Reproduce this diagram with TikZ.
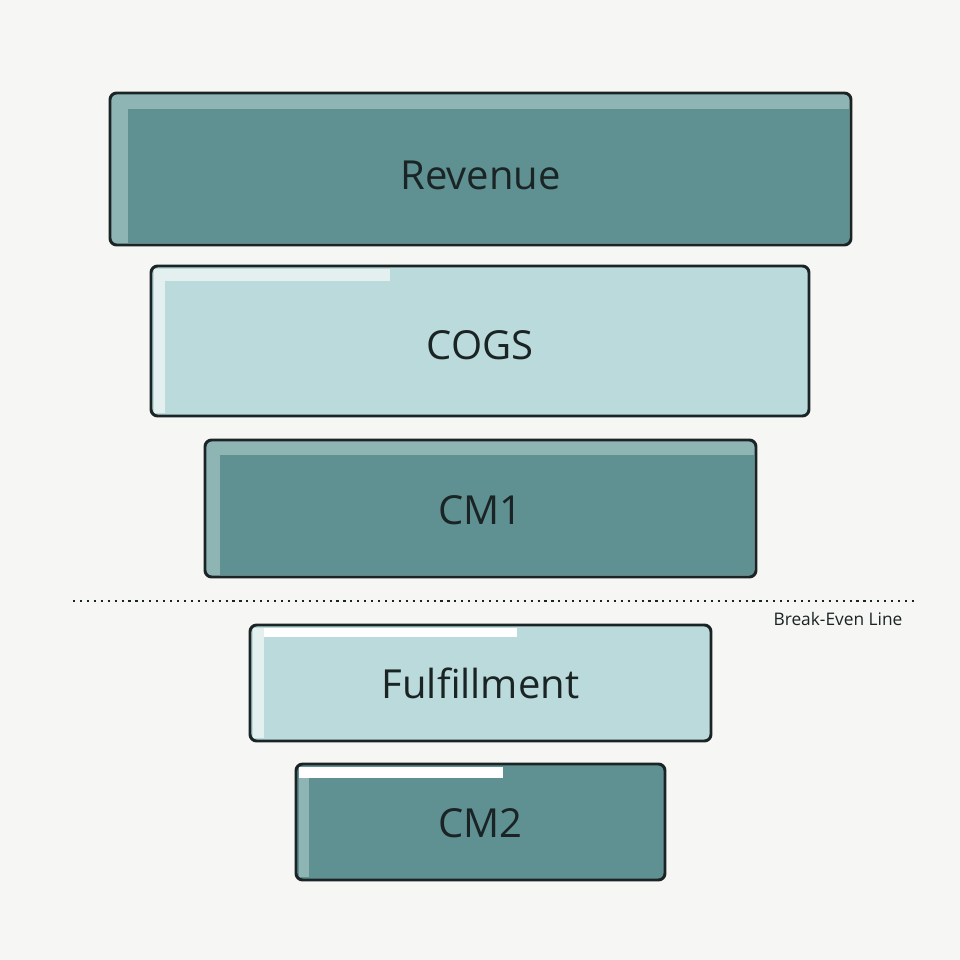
\documentclass[tikz,border=0pt]{standalone}
\usepackage{fontspec}
\setmainfont{Open Sans}
\definecolor{bg}{HTML}{F6F6F4}
\definecolor{dark}{HTML}{5F9193}
\definecolor{darkhi}{HTML}{8FB4B4}
\definecolor{light}{HTML}{BBDADB}
\definecolor{lighthi}{HTML}{E4F0F0}
\definecolor{ink}{HTML}{1B2424}
\begin{document}
\begin{tikzpicture}[x=0.75pt,y=-0.75pt,
  bar/.style={draw=ink,line width=2.2pt,rounded corners=5pt},
  lbl/.style={font=\fontsize{30}{34}\selectfont,text=ink}]
\fill[bg] (0,0) rectangle (960,960);
\useasboundingbox (0,0) rectangle (960,960);
% Revenue
\fill[darkhi,rounded corners=5pt] (110,93) rectangle (851,245);
\fill[dark] (128,109) rectangle (849,243);
\draw[bar] (110,93) rectangle (851,245);
\node[lbl] (rev) at (480.5,175) {Revenue};
% COGS
\fill[light,rounded corners=5pt] (151,266) rectangle (809,416);
\fill[lighthi] (154,269) rectangle (390,281);
\fill[lighthi] (154,269) rectangle (165,413);
\fill[light] (165,281) rectangle (806,413);
\draw[bar] (151,266) rectangle (809,416);
\node[lbl] (cogs) at (480,345) {COGS};
% CM1
\fill[darkhi,rounded corners=5pt] (205,440) rectangle (756,577);
\fill[dark] (220,455) rectangle (754,575);
\draw[bar] (205,440) rectangle (756,577);
\node[lbl] (cm1) at (480.5,510) {CM1};
% break-even
\coordinate (bl) at (73,601);
\coordinate (br) at (918,601);
\draw[ink,line width=1.6pt,dash pattern=on 1.6pt off 3.6pt] (bl) -- (br);
\node[font=\fontsize{13}{15}\selectfont,text=ink] (be) at (838,619) {Break-Even Line};
% Fulfillment
\fill[light,rounded corners=5pt] (250,625) rectangle (711,741);
\fill[white] (253,628) rectangle (517,637);
\fill[lighthi] (253,628) rectangle (264,738);
\fill[light] (264,637) rectangle (708,738);
\draw[bar] (250,625) rectangle (711,741);
\node[lbl] (ful) at (480.5,683) {Fulfillment};
% CM2
\fill[dark,rounded corners=5pt] (296,764) rectangle (665,880);
\fill[white] (299,767) rectangle (503,778);
\fill[darkhi] (299,778) rectangle (309,877);
\draw[bar] (296,764) rectangle (665,880);
\node[lbl] (cm2) at (480.5,823) {CM2};
\end{tikzpicture}
\end{document}
